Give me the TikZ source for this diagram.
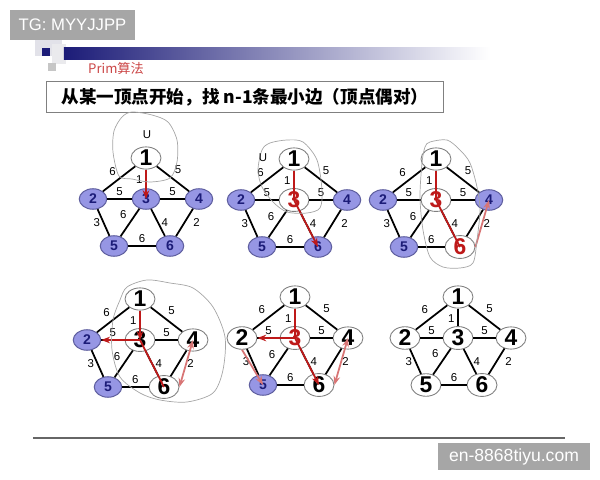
\documentclass[tikz,border=0pt]{standalone}
\usepackage{fontspec}
\setmainfont{Liberation Sans}
\newfontfamily\cjk{Noto Sans CJK SC}
\usetikzlibrary{arrows.meta, shapes.geometric}

\definecolor{vblue}{RGB}{150,150,228}
\definecolor{vnavy}{RGB}{28,28,120}
\definecolor{pickred}{RGB}{190,25,25}
\definecolor{markgray}{RGB}{166,166,166}

\tikzset{
  todo/.style={ellipse, draw=vnavy!70, fill=vblue, line width=0.6pt, minimum width=0.55cm, minimum height=0.41cm, inner sep=0pt, text=vnavy, font=\fontsize{8}{8}\selectfont\bfseries},
  seen/.style={ellipse, draw=gray, fill=white, line width=0.5pt, minimum width=0.6cm, minimum height=0.44cm, inner sep=0pt, font=\fontsize{13}{13}\selectfont\bfseries},
  seenred/.style={seen, text=pickred},
  edge/.style={line width=1pt},
  wt/.style={font=\fontsize{6.5}{6.5}\selectfont, inner sep=1.5pt},
  pick/.style={draw=pickred, line width=1pt, -{Stealth[length=5pt]}},
  cloud/.style={draw=gray!70, line width=0.4pt}
}

% one copy of the graph, node styles given for vertices 1..6
\newcommand{\primgraph}[6]{%
  \node[#1] (v1) at (0,-41) {1};
  \node[#2] (v2) at (-53,0) {2};
  \node[#3] (v3) at (0,0) {3};
  \node[#4] (v4) at (53,0) {4};
  \node[#5] (v5) at (-32,47) {5};
  \node[#6] (v6) at (24,47) {6};
  \draw[edge] (v1) -- node[wt, above left] {6} (v2);
  \draw[edge] (v1) -- node[wt, above right, pos=0.45] {5} (v4);
  \draw[edge] (v1) -- node[wt, left, pos=0.55] {1} (v3);
  \draw[edge] (v2) -- node[wt, above] {5} (v3);
  \draw[edge] (v3) -- node[wt, above] {5} (v4);
  \draw[edge] (v2) -- node[wt, left] {3} (v5);
  \draw[edge] (v3) -- node[wt, above left] {6} (v5);
  \draw[edge] (v3) -- node[wt, right] {4} (v6);
  \draw[edge] (v4) -- node[wt, right=3pt] {2} (v6);
  \draw[edge] (v5) -- node[wt, above] {6} (v6);
}

\begin{document}
\begin{tikzpicture}[x=0.02cm, y=-0.02cm]

\useasboundingbox (0,0) rectangle (600,480);

% heading
\fill[blue!12!gray!20] (35,40) rectangle (62,56);
\fill[blue!8!gray!15] (52,44) rectangle (66,64);
\fill[vnavy] (42,48) rectangle (50,56);
\fill[gray!45] (48,63) rectangle (56,71);
\shade[left color=vnavy, right color=white] (64,48) rectangle (490,60);
\node[anchor=west, text=pickred!80, font=\cjk\fontsize{7.5}{7.5}\selectfont] (head) at (82,68) {Prim算法};

\node[draw=gray, line width=0.6pt, minimum width=7.96cm, minimum height=0.62cm, inner sep=0pt, font=\cjk\bfseries\fontsize{10}{10}\selectfont] (task) at (245,97) {从某一顶点开始，找 n-1条最小边（顶点偶对）};

% step 1
\begin{scope}[shift={(146,199)}, name prefix=ga-]
  \primgraph{seen}{todo}{todo}{todo}{todo}{todo}
  \draw[pick] (v1.south) -- (v3.center);
\end{scope}
\draw[cloud] plot[smooth cycle] coordinates {(122,117) (132,112) (152,115) (168,122) (177,140) (177,162) (170,178) (150,182) (132,179) (119,176) (113,152) (114,131)};
\node[wt] (ua) at (147,135) {U};

% step 2
\begin{scope}[shift={(294,200)}, name prefix=gb-]
  \primgraph{seen}{todo}{seenred}{todo}{todo}{todo}
  \draw[pick, -] (v1.south) -- (v3.center);
  \draw[pick] (v3.center) -- (v6.center);
\end{scope}
\draw[cloud] plot[smooth cycle] coordinates {(270,143) (287,140) (303,142) (317,160) (322,190) (320,208) (307,213) (287,212) (273,202) (262,187) (258,170) (262,150)};
\node[wt] (ub) at (263,158) {U};

% step 3
\begin{scope}[shift={(436,200)}, name prefix=gc-]
  \primgraph{seen}{todo}{seenred}{todo}{todo}{seenred}
  \draw[pick, -] (v1.south) -- (v3.center);
  \draw[pick, -] (v3.center) -- (v6.center);
  \draw[pick, draw=pickred!60] (v6.east) -- (v4.center);
\end{scope}
\draw[cloud] plot[smooth cycle] coordinates {(430,142) (447,140) (460,150) (470,163) (477,187) (480,210) (477,240) (473,263) (460,268) (443,267) (430,257) (423,230) (420,197) (422,163) (425,147)};

% step 4
\begin{scope}[shift={(140,340)}, name prefix=gd-]
  \primgraph{seen}{todo}{seen}{seen}{todo}{seen}
  \draw[pick] (v1.south) -- (v3.center);
  \draw[pick] (v3.center) -- (v2.east);
  \draw[pick, -] (v3.center) -- (v6.center);
  \draw[pick, {Stealth[length=5pt]}-{Stealth[length=5pt]}, draw=pickred!60] (v6.east) -- (v4.center);
\end{scope}
\draw[cloud] plot[smooth cycle] coordinates {(127,287) (147,280) (170,283) (193,288) (213,307) (225,337) (223,370) (213,393) (187,402) (160,400) (140,393) (120,377) (112,350) (113,320) (120,300)};

% step 5
\begin{scope}[shift={(295,338)}, name prefix=ge-]
  \primgraph{seen}{seen}{seenred}{seen}{todo}{seen}
  \draw[pick, -] (v1.south) -- (v3.center);
  \draw[pick] (v3.center) -- (v2.east);
  \draw[pick] (v3.center) -- (v6.center);
  \draw[pick, {Stealth[length=5pt]}-{Stealth[length=5pt]}, draw=pickred!60] (v6.east) -- (v4.center);
  \draw[pick, draw=pickred!60] (v2.south) -- (v5.center);
\end{scope}

% step 6
\begin{scope}[shift={(458,338)}, name prefix=gf-]
  \primgraph{seen}{seen}{seen}{seen}{seen}{seen}
\end{scope}

% footer
\draw[gray!80!black, line width=0.7pt] (33,438) -- (565,438);

% marks
\node[fill=markgray, text=white, minimum width=2.5cm, minimum height=0.6cm, inner sep=0pt, font=\fontsize{9.5}{10}\selectfont] (tg) at (72.5,25) {TG: MYYJJPP};
\node[fill=markgray, text=white, minimum width=3.04cm, minimum height=0.54cm, inner sep=0pt, font=\fontsize{10}{10}\selectfont] (site) at (514,456.5) {en-8868tiyu.com};

\end{tikzpicture}
\end{document}
